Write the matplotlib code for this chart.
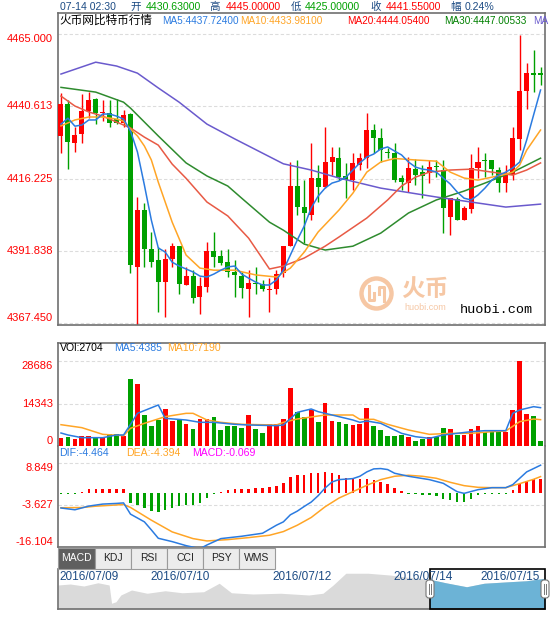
import matplotlib
matplotlib.use("Agg")
import matplotlib.pyplot as plt
from matplotlib.patches import Rectangle, Circle, FancyBboxPatch
import numpy as np

plt.rcParams['font.family'] = ['Liberation Sans', 'Noto Sans CJK SC', 'DejaVu Sans']

# ---- candle data ----
opens = [4430.63, 4441.4, 4428.3, 4431.2, 4439.1, 4443.0, 4438.3, 4438.4, 4436.2, 4434.9,
         4438.0, 4386.5, 4405.6, 4392.3, 4388.7, 4381.4, 4389.0, 4393.4, 4380.3, 4383.3,
         4376.3, 4379.5, 4391.8, 4390.1, 4388.1, 4384.8, 4383.3, 4378.8, 4381.1, 4380.6,
         4378.6, 4378.8, 4384.2, 4393.4, 4413.7, 4406.7, 4403.9, 4416.4, 4413.5, 4421.9,
         4423.2, 4417.1, 4415.7, 4420.8, 4423.2, 4432.6, 4429.8, 4425.1, 4424.9, 4416.3,
         4414.8, 4419.3, 4418.4, 4418.0, 4420.5, 4419.1, 4403.3, 4409.2, 4402.2, 4405.8,
         4419.7, 4422.4, 4422.5, 4419.1, 4414.6, 4417.4, 4429.5, 4445.8, 4451.9, 4451.7]
highs = [4445.0, 4442.7, 4433.7, 4444.7, 4445.5, 4443.4, 4442.7, 4442.7, 4443.0, 4439.3,
         4438.3, 4410.1, 4408.0, 4398.3, 4393.2, 4392.3, 4394.6, 4393.4, 4386.5, 4385.3,
         4383.1, 4394.9, 4398.3, 4392.1, 4392.3, 4388.7, 4384.8, 4385.3, 4386.4, 4382.0,
         4382.6, 4385.3, 4393.4, 4421.9, 4422.5, 4415.7, 4428.1, 4420.8, 4433.7, 4427.0,
         4427.0, 4421.4, 4424.7, 4424.7, 4438.2, 4434.5, 4433.4, 4426.4, 4428.1, 4417.4,
         4423.6, 4422.7, 4420.8, 4422.5, 4422.5, 4422.5, 4409.6, 4410.1, 4407.0, 4424.5,
         4427.0, 4424.7, 4422.5, 4420.2, 4420.8, 4433.7, 4464.7, 4455.1, 4459.6, 4454.0]
lows = [4425.0, 4419.4, 4425.3, 4428.2, 4436.6, 4434.6, 4435.7, 4433.7, 4434.5, 4433.7,
        4384.2, 4366.2, 4386.5, 4386.5, 4371.3, 4369.6, 4386.5, 4377.2, 4380.3, 4374.3,
        4370.4, 4378.0, 4386.5, 4387.0, 4383.1, 4376.1, 4375.8, 4369.6, 4377.2, 4378.4,
        4371.3, 4377.2, 4383.0, 4393.4, 4403.9, 4394.4, 4402.2, 4408.4, 4413.0, 4417.4,
        4415.7, 4409.5, 4412.3, 4419.1, 4419.7, 4424.7, 4421.9, 4423.0, 4415.1, 4412.3,
        4411.8, 4414.0, 4409.5, 4414.6, 4416.8, 4397.7, 4397.2, 4402.2, 4402.2, 4404.5,
        4416.3, 4416.8, 4417.4, 4411.8, 4411.8, 4415.7, 4425.8, 4439.7, 4445.5, 4447.8]
closes = [4441.55, 4428.6, 4430.9, 4439.0, 4442.7, 4438.4, 4438.8, 4435.1, 4435.1, 4437.7,
          4387.0, 4405.6, 4392.3, 4388.1, 4381.4, 4389.0, 4393.4, 4380.5, 4383.3, 4376.0,
          4379.9, 4391.8, 4389.8, 4387.8, 4384.8, 4383.7, 4379.2, 4381.1, 4380.6, 4378.8,
          4378.8, 4384.0, 4393.4, 4413.7, 4406.7, 4404.5, 4416.3, 4413.5, 4421.9, 4423.6,
          4416.8, 4415.7, 4421.4, 4423.2, 4432.6, 4429.8, 4425.8, 4424.8, 4415.7, 4415.1,
          4419.7, 4417.4, 4417.1, 4420.0, 4420.2, 4406.2, 4409.5, 4402.2, 4406.2, 4419.7,
          4421.9, 4422.1, 4419.3, 4414.6, 4418.0, 4429.8, 4445.8, 4451.9, 4451.2, 4451.2]

ma5 = [4434.6, 4436.6, 4433.9, 4434.3, 4436.0, 4436.0, 4438.0, 4438.0, 4437.3, 4436.3,
       4432.3, 4425.2, 4414.0, 4402.2, 4392.8, 4391.4, 4388.0, 4386.7, 4385.7, 4384.7,
       4383.3, 4383.0, 4384.0, 4385.3, 4386.4, 4386.7, 4384.0, 4382.6, 4381.3, 4380.3,
       4380.3, 4382.0, 4385.3, 4390.4, 4395.5, 4400.2, 4406.3, 4410.3, 4413.0, 4414.7,
       4415.4, 4416.7, 4419.1, 4421.5, 4423.5, 4424.5, 4426.2, 4426.9, 4425.5, 4424.2,
       4421.8, 4420.1, 4419.4, 4419.1, 4418.4, 4416.4, 4414.4, 4411.7, 4409.6, 4409.0,
       4410.7, 4413.0, 4415.7, 4417.4, 4418.4, 4419.8, 4421.8, 4429.2, 4437.7, 4446.1]
ma10_idx = [0, 2, 4, 6, 8, 9, 10, 11, 12, 13, 14, 16, 18, 20, 22, 25, 28, 31, 33, 35,
            37, 40, 42, 44, 46, 48, 51, 54, 56, 58, 60, 62, 64, 65, 66, 67, 69]
ma10 = [4434.0, 4436.0, 4437.0, 4437.0, 4436.3, 4435.6, 4432.9, 4430.6, 4427.2, 4422.5,
        4415.0, 4401.5, 4390.4, 4386.0, 4385.3, 4385.3, 4383.7, 4383.0, 4386.0, 4391.4,
        4398.2, 4405.6, 4411.3, 4418.4, 4421.8, 4423.0, 4422.5, 4422.1, 4418.4, 4416.4,
        4415.7, 4416.7, 4417.7, 4418.4, 4420.8, 4425.8, 4432.6]
ma20_idx = [0, 2, 4, 6, 8, 10, 12, 14, 16, 18, 21, 24, 27, 30, 32, 35, 38, 40, 44, 47,
            49, 51, 53, 56, 59, 62, 65, 67, 69]
ma20 = [4444.05, 4440.7, 4438.7, 4437.3, 4435.3, 4433.3, 4430.2, 4427.5, 4421.1, 4416.3,
        4408.3, 4403.6, 4396.1, 4385.7, 4386.7, 4389.4, 4393.4, 4396.5, 4402.9, 4409.0,
        4413.7, 4416.7, 4418.4, 4419.1, 4419.4, 4418.4, 4417.4, 4419.1, 4421.5]
ma30_idx = [0, 5, 9, 10, 14, 18, 21, 24, 26, 30, 32, 35, 38, 42, 46, 50, 54, 58, 61, 65, 69]
ma30 = [4447.0, 4445.4, 4442.0, 4440.0, 4430.6, 4421.5, 4417.1, 4413.7, 4409.6, 4401.5,
        4398.8, 4394.1, 4392.1, 4393.4, 4397.8, 4404.6, 4409.0, 4412.0, 4414.7, 4418.4, 4423.1]
ma60_idx = [0, 5, 8, 11, 14, 17, 21, 25, 29, 32, 36, 40, 46, 54, 59, 64, 69]
ma60 = [4451.5, 4455.5, 4454.2, 4451.8, 4446.8, 4442.0, 4434.6, 4429.6, 4424.8, 4421.2,
        4419.1, 4416.4, 4413.0, 4410.0, 4408.3, 4406.6, 4407.6]
price_ticks = [4465.000, 4440.613, 4416.225, 4391.838, 4367.450]

# ---- volume ----
volumes = [2704, 3140, 2360, 3375, 3375, 3140, 3140, 4050, 4050, 3375,
           22700, 20925, 10460, 6750, 8775, 12490, 8440, 9000, 7425, 5740,
           9110, 9110, 9900, 5400, 6750, 6750, 6190, 10460, 5740, 4500,
           7425, 7425, 9113, 19690, 11363, 9788, 12038, 7988, 14513, 8438,
           7988, 7425, 7088, 7538, 12825, 6750, 5400, 3375, 3375, 3825,
           3150, 1688, 2475, 2925, 2925, 6075, 5625, 3713, 3713, 5625,
           6863, 4838, 4725, 4838, 4838, 12038, 28686, 10800, 10125, 1688]
vma5_idx = [0, 1, 3, 6, 8, 9, 10, 11, 14, 15, 18, 20, 22, 25, 27, 31, 32, 34, 36, 37,
            39, 42, 43, 44, 46, 47, 49, 51, 53, 55, 57, 59, 61, 64, 65, 66, 68, 69]
vma5 = [4385, 3713, 2813, 2813, 3713, 3713, 7300, 11025, 13838, 9338, 8775, 7988, 7988,
        7313, 7088, 6863, 7088, 11363, 12488, 11588, 10463, 8775, 7988, 8438, 7650, 6525,
        4275, 3150, 2588, 3713, 4275, 4838, 5175, 5175, 11025, 12150, 13275, 12938]
vma10_idx = [0, 3, 6, 9, 10, 12, 15, 18, 19, 21, 23, 26, 31, 32, 34, 38, 42, 43, 45, 47,
             50, 53, 56, 59, 62, 64, 66, 68, 69]
vma10 = [7190, 6188, 3938, 3488, 5963, 7650, 9900, 11025, 11025, 8775, 7988, 7313, 7088,
         7988, 9113, 10463, 10463, 9000, 9000, 7313, 5400, 3938, 4275, 4275, 4838, 5063,
         8213, 9113, 8888]
vol_ticks = [28686, 14343, 0]

# ---- MACD ----
macd_hist = [-0.069, -0.3, -0.3, 0.3, 1.1, 1.3, 1.3, 1.3, 1.3, 1.3,
             -3.0, -3.5, -4.5, -5.5, -5.8, -5.0, -4.5, -4.0, -3.5, -3.5,
             -3.0, -1.5, -0.3, 0.3, 0.8, 1.1, 1.3, 1.3, 1.5, 1.5,
             1.8, 2.1, 3.0, 4.8, 5.3, 5.5, 6.0, 6.0, 6.3, 6.0,
             5.3, 4.5, 4.3, 4.1, 4.1, 3.8, 3.3, 2.8, 1.5, 0.5,
             -0.2, -0.4, -0.7, -0.7, -0.8, -1.7, -2.2, -2.7, -2.7, -1.7,
             -0.7, -0.4, -0.1, -0.4, -0.3, 1.0, 2.8, 3.5, 4.3, 4.3]
dif_idx = [0, 2, 4, 6, 8, 9, 10, 12, 13, 14, 16, 18, 20, 21, 23, 26, 29, 31, 32, 33,
           34, 35, 36, 37, 38, 39, 40, 42, 43, 44, 45, 46, 47, 48, 50, 53, 55, 57, 58, 60,
           62, 64, 65, 67, 69]
dif = [-4.464, -5.0, -3.9, -3.3, -3.1, -2.95, -6.3, -8.6, -11.0, -13.5,
       -14.5, -15.7, -16.6, -15.5, -13.6, -12.9, -12.0, -9.6, -8.6, -6.5,
       -5.4, -4.0, -2.7, -0.8, 1.5, 3.3, 4.0, 4.3, 5.0, 6.3,
       7.2, 7.3, 7.0, 5.9, 5.0, 4.0, 2.9, 0.4, -0.1, 1.0,
       1.6, 1.6, 2.5, 6.3, 8.3]
dea_idx = [0, 3, 5, 9, 10, 13, 16, 19, 21, 24, 27, 30, 32, 34, 36, 38, 40, 42, 44, 46,
           48, 50, 52, 54, 56, 58, 60, 62, 64, 66, 68, 69]
dea = [-4.394, -4.33, -3.93, -3.43, -4.3, -8.1, -11.6, -13.6, -14.3, -13.9,
       -13.3, -12.6, -11.5, -9.6, -7.3, -4.1, -1.5, 0.4, 2.3, 4.0,
       5.0, 5.3, 5.0, 4.4, 3.2, 2.2, 1.7, 1.6, 1.6, 2.8, 4.1, 4.9]
macd_ticks = [8.849, -3.627, -16.104]

# ---- navigator overview ----
nav_t = [0, 2.5, 5.3, 8.2, 10.5, 11.0, 11.9, 12.9, 15.1, 18.3, 22.0, 25.5, 29.9, 33.1,
         35.6, 40.0, 45.7, 51.5, 54.4, 56.5, 59.1, 63.7, 68.1, 71.7, 76.3, 79.6, 83.9,
         87.5, 92.6, 96.2, 100]
nav_price = [4396, 4400, 4392, 4405, 4396, 4323, 4329, 4356, 4376, 4363, 4373, 4365, 4369,
             4403, 4365, 4360, 4363, 4356, 4363, 4396, 4443, 4443, 4436, 4427, 4419, 4405,
             4389, 4403, 4409, 4413, 4423]
nav_dates = ["2016/07/09", "2016/07/10", "2016/07/12", "2016/07/14", "2016/07/15"]
tabs = ["MACD", "KDJ", "RSI", "CCI", "PSY", "WMS"]

RED = '#ff0000'
GREEN = '#00a000'
BLUE = '#2b7be0'
ORANGE = '#ffa526'
SALMON = '#e85a45'
DKGREEN = '#2e8b2e'
PURPLE = '#6a5acd'
NAVY = '#1c4b84'
BORDER = '#707070'
GRID = '#dcdcdc'

W, H = 550, 617


def box(x0, y0, x1, y1):
    return [x0 / W, 1 - y1 / H, (x1 - x0) / W, (y1 - y0) / H]


def style(ax, spines):
    ax.set_xticks([])
    ax.set_yticks([])
    for k, s in ax.spines.items():
        s.set_visible(k in spines)
        s.set_color(BORDER)
        s.set_linewidth(1.2)


def ylab(ax, val, va):
    txt = f"{val:.3f}" if isinstance(val, float) else f"{val}"
    ax.text(-5 / 487, val, txt, transform=ax.get_yaxis_transform(), ha='right',
            va=va, color=RED, fontsize=8, clip_on=False)


fig = plt.figure(figsize=(W / 100, H / 100), dpi=100)
idx = np.arange(len(opens))
o = np.array(opens)
c = np.array(closes)
cols = np.where(c >= o, RED, GREEN)
xlim = (-0.43, 69.64)

# main price panel
ax = fig.add_axes(box(58, 13, 545, 325))
style(ax, ['top', 'bottom', 'left', 'right'])
ax.set_xlim(*xlim)
ax.set_ylim(4366.8, 4472.1)
for v in price_ticks:
    ax.axhline(v, color=GRID, lw=0.8, ls=(0, (3, 2)), zorder=0)
ax.vlines(idx, lows, highs, colors=cols, lw=1, zorder=2)
ax.bar(idx, np.maximum(np.abs(c - o), 0.4), bottom=np.minimum(o, c), width=0.72,
       color=cols, lw=0, zorder=3)
ax.plot(ma60_idx, ma60, color=PURPLE, lw=1.1, zorder=4)
ax.plot(ma30_idx, ma30, color=DKGREEN, lw=1.1, zorder=4)
ax.plot(ma20_idx, ma20, color=SALMON, lw=1.1, zorder=4)
ax.plot(ma10_idx, ma10, color=ORANGE, lw=1.1, zorder=4)
ax.plot(idx, ma5, color=BLUE, lw=1.1, zorder=4)
for v, va in zip(price_ticks, ['top', 'center', 'center', 'center', 'bottom']):
    ylab(ax, v, va)

# volume panel
av = fig.add_axes(box(58, 343, 545, 446))
style(av, ['top', 'left', 'right'])
av.set_xlim(*xlim)
av.set_ylim(0, 34761)
for v in vol_ticks[:2]:
    av.axhline(v, color=GRID, lw=0.8, ls=(0, (3, 2)), zorder=0)
av.bar(idx, volumes, width=0.68, color=cols, lw=0, zorder=2)
av.plot(vma10_idx, vma10, color=ORANGE, lw=1.1, zorder=3)
av.plot(vma5_idx, vma5, color=BLUE, lw=1.1, zorder=3)
for v, va in zip(vol_ticks, ['top', 'center', 'bottom']):
    ylab(av, v, va)

# MACD panel
am = fig.add_axes(box(58, 446, 545, 547))
style(am, ['bottom', 'left', 'right'])
am.set_xlim(*xlim)
am.set_ylim(-16.104, 14.03)
for v in macd_ticks[:2]:
    am.axhline(v, color=GRID, lw=0.8, ls=(0, (3, 2)), zorder=0)
hist = np.array(macd_hist)
am.bar(idx, np.sign(hist) * np.maximum(np.abs(hist), 0.35), width=0.35,
       color=np.where(hist >= 0, RED, GREEN), lw=0, zorder=2)
am.plot(dea_idx, dea, color=ORANGE, lw=1.1, zorder=3)
am.plot(dif_idx, dif, color=BLUE, lw=1.1, zorder=3)
for v, va in zip(macd_ticks, ['top', 'center', 'bottom']):
    ylab(am, v, va)

# navigator
nv = fig.add_axes(box(58, 569, 545, 609))
style(nv, ['left', 'bottom'])
nv.set_xlim(0, 100)
nv.set_ylim(4300, 4460)
nv.fill_between(nav_t, 4300, nav_price, color='#dadada', lw=0)
sel = nv.fill_between(nav_t, 4300, nav_price, color='#6cb3d6', lw=0)
sel.set_clip_path(Rectangle((76.3, 4300), 23.7, 160, transform=nv.transData))
nv.add_patch(Rectangle((76.3, 4300), 23.7, 160, fill=False, ec='black', lw=1.2,
                       clip_on=False, zorder=5))

# overlay for texts and decorations (pixel coordinates)
ov = fig.add_axes([0, 0, 1, 1])
ov.set_xlim(0, W)
ov.set_ylim(H, 0)
ov.axis('off')


def seg(x, y, s, color, size=7.6):
    ov.text(x, y, s, color=color, fontsize=size, ha='left', va='center')


for x, s, col in [(59.6, "07-14 02:30", NAVY), (130.5, "开", NAVY), (145.6, "4430.63000", GREEN),
                  (209.8, "高", NAVY), (225.6, "4445.00000", RED), (290.5, "低", NAVY),
                  (305, "4425.00000", GREEN), (370, "收", NAVY), (386, "4441.55000", RED),
                  (450, "幅", NAVY), (465, "0.24%", NAVY)]:
    seg(x, 7.3, s, col)
seg(59, 20.7, "火币网比特币行情", 'black', 8.4)
for x, s, col in [(162, "MA5:4437.72400", BLUE), (240, "MA10:4433.98100", ORANGE),
                  (347, "MA20:4444.05400", RED), (444, "MA30:4447.00533", '#008000'),
                  (533, "MA", PURPLE)]:
    seg(x, 20.7, s, col, 7.2)
for x, s, col in [(60, "VOl:2704", 'black'), (114, "MA5:4385", BLUE), (167.5, "MA10:7190", ORANGE)]:
    seg(x, 348, s, col)
for x, s, col in [(59, "DIF:-4.464", BLUE), (126, "DEA:-4.394", ORANGE), (192, "MACD:-0.069", '#ff00ff')]:
    seg(x, 453, s, col)

# tabs
x0 = 58
for i, name in enumerate(tabs):
    w = 37 if i == 0 else 36
    active = i == 0
    ov.add_patch(Rectangle((x0, 548), w, 21, fc='#5f5f5f' if active else '#ececec',
                           ec='#9a9a9a', lw=0.8))
    ov.text(x0 + w / 2, 558, name, ha='center', va='center', fontsize=7.5,
            color='white' if active else '#222222')
    x0 += w

for x, s in zip([59, 150, 272, 393, 480], nav_dates):
    ov.text(x, 577.5, s, ha='left', va='center', fontsize=8.5, color=NAVY)

for hx in [430, 545]:
    ov.add_patch(FancyBboxPatch((hx - 4, 580), 8, 18, boxstyle='round,pad=0,rounding_size=3',
                                fc='white', ec='#777777', lw=0.8, zorder=6))
    ov.plot([hx - 1.3, hx - 1.3], [584, 594], color='#777777', lw=0.7, zorder=7)
    ov.plot([hx + 1.3, hx + 1.3], [584, 594], color='#777777', lw=0.7, zorder=7)

# watermark
wm = '#f6c7a4'
ov.add_patch(Circle((376.5, 293.5), 15, fill=False, ec=wm, lw=3.2))
ov.plot([369, 369, 374, 374], [286, 300, 300, 293], color=wm, lw=2.2)
ov.plot([384, 384, 379, 379], [301, 287, 287, 294], color=wm, lw=2.2)
ov.text(425, 290, "火币", fontsize=17, color=wm, ha='center', va='center', weight='bold')
ov.text(425, 308, "huobi.com", fontsize=6.5, color=wm, ha='center', va='center')
ov.text(496, 310, "huobi.com", family=['Liberation Mono'], fontsize=9.7, color='black',
        ha='center', va='center')

fig.savefig('out.png', dpi=100)
